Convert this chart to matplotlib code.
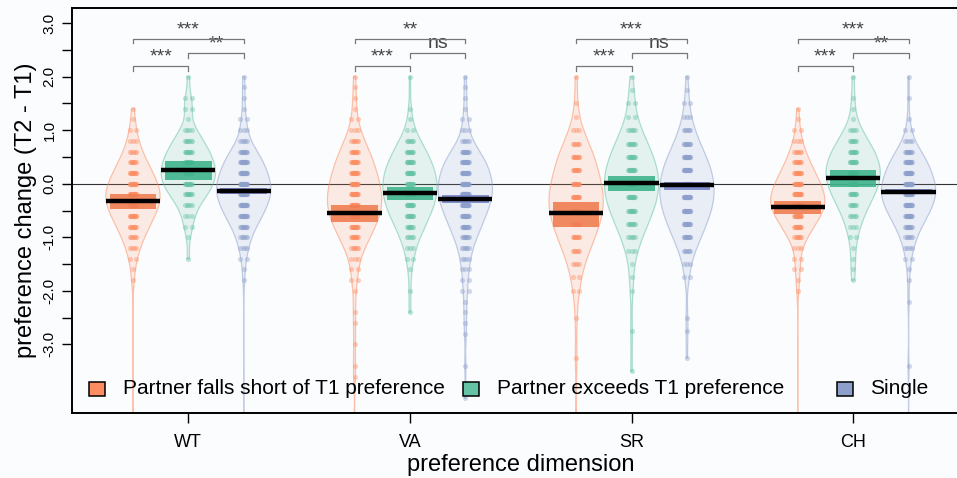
import numpy as np
import matplotlib
matplotlib.use("Agg")
import matplotlib.pyplot as plt
from matplotlib.patches import Rectangle

plt.rcParams['font.family'] = ['Liberation Sans', 'DejaVu Sans']

dims = ["WT", "VA", "SR", "CH"]
groups = ["Partner falls short of T1 preference", "Partner exceeds T1 preference", "Single"]
colors = ["#FC8D62", "#66C2A5", "#8DA0CB"]
band_colors = ["#EF7D52", "#3FB48B", "#7686C8"]

# preference change values (y) and number of people at each value (n)
wt_short_y = [1.4, 1.2, 1.0, 0.8, 0.6, 0.4, 0.2, 0.0, -0.2, -0.4, -0.6, -0.8, -1.0, -1.2, -1.4, -1.6, -1.8, -4.6]
wt_short_n = [1, 1, 2, 3, 5, 8, 11, 14, 16, 15, 12, 9, 6, 4, 2, 1, 1, 1]
wt_exceed_y = [2.0, 1.6, 1.4, 1.2, 1.0, 0.8, 0.6, 0.4, 0.2, 0.0, -0.2, -0.4, -0.6, -0.8, -1.0, -1.4]
wt_exceed_n = [1, 2, 2, 1, 4, 7, 10, 12, 13, 12, 9, 5, 3, 2, 1, 1]
wt_single_y = [2.0, 1.8, 1.6, 1.4, 1.2, 1.0, 0.8, 0.6, 0.4, 0.2, 0.0, -0.2, -0.4, -0.6, -0.8, -1.0, -1.2, -1.4, -1.6, -1.8, -4.6]
wt_single_n = [1, 1, 1, 1, 2, 3, 5, 11, 16, 19, 22, 22, 19, 15, 10, 6, 4, 2, 1, 1, 1]

va_short_y = [2.0, 1.8, 1.6, 1.4, 1.2, 1.0, 0.8, 0.6, 0.4, 0.2, 0.0, -0.2, -0.4, -0.6, -0.8, -1.0, -1.2, -1.4, -1.6, -1.8, -2.0, -2.4, -2.6, -3.0, -3.4, -3.6, -4.6]
va_short_n = [1, 1, 1, 1, 2, 3, 6, 10, 12, 14, 16, 17, 18, 16, 13, 10, 6, 3, 2, 2, 1, 1, 1, 1, 1, 1, 1]
va_exceed_y = [2.0, 1.4, 1.2, 1.0, 0.8, 0.6, 0.4, 0.2, 0.0, -0.2, -0.4, -0.6, -0.8, -1.0, -1.2, -1.4, -1.6, -2.0, -2.4]
va_exceed_n = [1, 1, 1, 2, 6, 9, 12, 14, 15, 15, 13, 11, 8, 5, 3, 2, 1, 1, 1]
va_single_y = [2.0, 1.8, 1.6, 1.4, 1.2, 1.0, 0.8, 0.6, 0.4, 0.2, 0.0, -0.2, -0.4, -0.6, -0.8, -1.0, -1.2, -1.4, -1.6, -1.8, -2.0, -2.2, -2.4, -2.6, -2.8, -3.4, -4.0]
va_single_n = [1, 1, 1, 1, 2, 3, 5, 12, 17, 20, 22, 22, 20, 16, 13, 9, 6, 4, 3, 2, 2, 1, 1, 1, 1, 1, 1]

sr_short_y = [2.0, 1.5, 1.25, 1.0, 0.75, 0.5, 0.25, 0.0, -0.25, -0.5, -0.75, -1.0, -1.25, -1.5, -1.75, -2.0, -2.5, -3.25, -4.6]
sr_short_n = [1, 1, 1, 3, 6, 9, 10, 12, 13, 13, 11, 9, 6, 4, 2, 2, 1, 1, 1]
sr_exceed_y = [2.0, 1.75, 1.5, 1.25, 1.0, 0.75, 0.5, 0.25, 0.0, -0.25, -0.5, -0.75, -1.0, -1.25, -1.5, -1.75, -2.0, -2.75, -3.5]
sr_exceed_n = [1, 1, 2, 2, 5, 8, 11, 13, 14, 13, 11, 8, 5, 3, 1, 1, 1, 1, 1]
sr_single_y = [2.0, 1.75, 1.5, 1.25, 1.0, 0.75, 0.5, 0.25, 0.0, -0.25, -0.5, -0.75, -1.0, -1.25, -1.5, -1.75, -2.5, -2.75, -3.25]
sr_single_n = [1, 1, 2, 3, 6, 10, 15, 19, 21, 21, 19, 15, 11, 6, 3, 2, 1, 1, 1]

ch_short_y = [1.4, 1.2, 1.0, 0.8, 0.6, 0.4, 0.2, 0.0, -0.2, -0.4, -0.6, -0.8, -1.0, -1.2, -1.4, -1.6, -1.8, -2.0, -4.6]
ch_short_n = [1, 1, 2, 3, 6, 9, 13, 17, 20, 21, 17, 12, 7, 3, 2, 2, 1, 1, 1]
ch_exceed_y = [2.0, 1.6, 1.4, 1.2, 1.0, 0.8, 0.6, 0.4, 0.2, 0.0, -0.2, -0.4, -0.6, -0.8, -1.0, -1.2, -1.4, -1.6, -1.8]
ch_exceed_n = [1, 1, 1, 1, 4, 7, 10, 12, 13, 12, 10, 7, 5, 3, 2, 1, 1, 1, 1]
ch_single_y = [2.0, 1.6, 1.2, 1.0, 0.8, 0.6, 0.4, 0.2, 0.0, -0.2, -0.4, -0.6, -0.8, -1.0, -1.2, -1.4, -1.6, -1.8, -2.2, -3.4, -4.6]
ch_single_n = [1, 1, 1, 2, 4, 10, 15, 18, 21, 22, 19, 15, 10, 6, 4, 2, 1, 1, 1, 1, 1]

# mean and interval band per dimension (WT, VA, SR, CH)
mean_short = [-0.33, -0.55, -0.55, -0.43]
lo_short = [-0.47, -0.72, -0.80, -0.565]
hi_short = [-0.19, -0.40, -0.335, -0.32]
mean_exceed = [0.26, -0.18, 0.01, 0.10]
lo_exceed = [0.07, -0.30, -0.13, -0.07]
hi_exceed = [0.43, -0.06, 0.15, 0.255]
mean_single = [-0.14, -0.28, -0.02, -0.15]
lo_single = [-0.20, -0.36, -0.11, -0.19]
hi_single = [-0.08, -0.21, 0.04, -0.10]

# significance labels
sig_short_exceed = ["***", "***", "***", "***"]
sig_exceed_single = ["**", "ns", "ns", "**"]
sig_short_single = ["***", "**", "***", "***"]

bean_y = [[wt_short_y, va_short_y, sr_short_y, ch_short_y],
          [wt_exceed_y, va_exceed_y, sr_exceed_y, ch_exceed_y],
          [wt_single_y, va_single_y, sr_single_y, ch_single_y]]
bean_n = [[wt_short_n, va_short_n, sr_short_n, ch_short_n],
          [wt_exceed_n, va_exceed_n, sr_exceed_n, ch_exceed_n],
          [wt_single_n, va_single_n, sr_single_n, ch_single_n]]
means = [mean_short, mean_exceed, mean_single]
los = [lo_short, lo_exceed, lo_single]
his = [hi_short, hi_exceed, hi_single]


def density(data):
    # gaussian kde with R's nrd0 bandwidth, cut at the data range
    sd = data.std(ddof=1)
    q75, q25 = np.percentile(data, [75, 25])
    bw = 0.9 * min(sd, (q75 - q25) / 1.34) * len(data) ** -0.2
    grid = np.linspace(data.min(), data.max(), 600)
    d = np.exp(-0.5 * ((grid[:, None] - data[None, :]) / bw) ** 2).sum(axis=1)
    return grid, d / d.max()


fig = plt.figure(figsize=(9.57, 4.78), dpi=100)
fig.patch.set_facecolor("#fbfcfe")
ax = fig.add_axes([72 / 957, 1 - 413 / 478, (969.5 - 72) / 957, (413 - 7.5) / 478])
ax.set_facecolor("#fbfcfe")

half = 0.49
for i in range(len(dims)):
    for j in range(3):
        pos = 4 * i + 1 + j
        c = colors[j]
        data = np.repeat(np.array(bean_y[j][i], float), bean_n[j][i])
        grid, d = density(data)
        w = half * d
        ax.fill_betweenx(grid, pos - w, pos + w, facecolor=c, alpha=0.16, lw=0, zorder=1)
        ax.plot(np.r_[pos - w, (pos + w)[::-1], pos - w[0]], np.r_[grid, grid[::-1], grid[0]],
                color=c, alpha=0.5, lw=0.9, zorder=1)
        # points, spread a little sideways
        for yv, nv in zip(bean_y[j][i], bean_n[j][i]):
            xs = pos + (np.linspace(-0.06, 0.06, nv) if nv > 1 else np.zeros(1))
            ax.scatter(xs, np.full(nv, yv), s=14, color=c, alpha=0.4, lw=0, zorder=2)
        ax.add_patch(Rectangle((pos - 0.42, los[j][i]), 0.84, his[j][i] - los[j][i],
                               facecolor=band_colors[j], edgecolor="none", alpha=0.9, zorder=3))
        ax.plot([pos - half, pos + half], [means[j][i]] * 2, color="black", lw=3.2,
                solid_capstyle="butt", zorder=4)

    # significance brackets
    x1, x2, x3 = 4 * i + 1, 4 * i + 2, 4 * i + 3
    for xa, xb, yb, lab in [(x1, x2, 2.20, sig_short_exceed[i]),
                            (x2, x3, 2.445, sig_exceed_single[i]),
                            (x1, x3, 2.71, sig_short_single[i])]:
        ax.plot([xa, xa, xb, xb], [yb - 0.09, yb, yb, yb - 0.09], color="#777777", lw=0.9, zorder=5)
        ax.text((xa + xb) / 2, yb + 0.01, lab, ha="center", va="bottom", fontsize=14,
                color="#444444", zorder=5)

ax.axhline(0, color="#333333", lw=0.8, zorder=0)

ax.set_xlim(-0.1, 16.1)
ax.set_ylim(-4.28, 3.29)
ax.set_xticks([4 * i + 2 for i in range(len(dims))])
ax.set_xticklabels(dims, fontsize=13)
yt = np.arange(-3.0, 3.01, 0.5)
ax.set_yticks(yt)
ax.set_yticklabels([f"{v:.1f}" if abs(v - round(v)) < 1e-9 else "" for v in yt],
                   rotation=90, va="center", fontsize=11)
ax.tick_params(direction="out", length=7, width=1, colors="black")
ax.tick_params(axis="x", pad=8)
ax.tick_params(axis="y", pad=4)
for s in ["left", "bottom", "top"]:
    ax.spines[s].set_linewidth(1.4)
ax.spines["right"].set_visible(False)
ax.set_xlabel("preference dimension", fontsize=17, labelpad=2)
ax.set_ylabel("preference change (T2 - T1)", fontsize=17, labelpad=4)

# legend row inside the plot
leg_sq = [89, 463, 837]
leg_tx = [123, 497, 870]
for k in range(3):
    fig.add_artist(Rectangle((leg_sq[k] / 957, 1 - 396 / 478), 16 / 957, 14 / 478,
                             transform=fig.transFigure, facecolor=colors[k],
                             edgecolor="black", lw=1.1))
    fig.text(leg_tx[k] / 957, 1 - 389 / 478, groups[k], fontsize=15, va="center", ha="left")

fig.savefig("out.png", dpi=100, facecolor=fig.get_facecolor())
